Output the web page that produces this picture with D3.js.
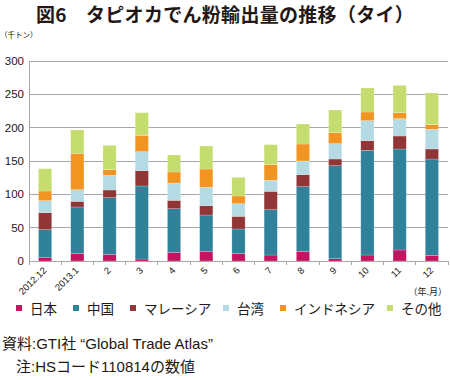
<!DOCTYPE html>
<html><head><meta charset="utf-8">
<script src="https://cdn.jsdelivr.net/npm/d3@7"></script>
<style>
html,body{margin:0;padding:0;background:#fff;}
svg{display:block;font-family:"Noto Sans CJK JP","Noto Sans",sans-serif;}
</style></head>
<body>
<svg id="c" width="450" height="380"></svg>
<script>
const categories = ["2012.12","2013.1","2","3","4","5","6","7","8","9","10","11","12"];
const seriesNames = ["日本","中国","マレーシア","台湾","インドネシア","その他"];
const japan     = [5, 11.5, 10, 3, 13, 14, 11, 9, 14, 3.5, 9, 16.5, 8.5];
const china     = [42, 69.5, 85, 109.5, 65.5, 55, 37, 68, 97.5, 139.5, 157, 151.5, 144.5];
const malaysia  = [25.5, 8.5, 11.5, 23, 12.5, 14, 19, 27.5, 18, 10, 14.5, 19.5, 15];
const taiwan    = [18, 17.5, 22, 28.5, 26, 27.5, 19, 16.5, 20.5, 23, 30, 26, 29.5];
const indonesia = [14.5, 54.5, 8.5, 24.5, 16.5, 27.5, 11.5, 23.5, 25.5, 16.5, 13, 9, 7];
const others    = [33.5, 35, 36.5, 34, 25.5, 34.5, 28, 30, 30, 34, 36, 41, 47.5];
const yTicks = [0, 50, 100, 150, 200, 250, 300];
const colors = ["#c4145f","#2f8299","#913537","#b4dbe3","#f29422","#c5dc6e"];

const seriesValues = [japan, china, malaysia, taiwan, indonesia, others];
const rows = categories.map((c, i) => {
  const r = {cat: c};
  seriesNames.forEach((s, k) => r[s] = seriesValues[k][i]);
  return r;
});

const svg = d3.select("#c");
const x = d3.scaleBand().domain(categories).range([29, 448]).paddingInner(0.59).paddingOuter(0.295);
const y = d3.scaleLinear().domain([0, 300]).range([261, 61]);
const latin = "'Liberation Sans','Noto Sans CJK JP',sans-serif";

// title
svg.append("text").attr("x", 225).attr("y", 22).attr("text-anchor", "middle")
  .attr("font-size", 19).attr("font-weight", "bold").attr("fill", "#231815")
  .attr("letter-spacing", 0.3)
  .text("図6　タピオカでん粉輸出量の推移（タイ）");

// unit
svg.append("text").attr("x", 0).attr("y", 38).attr("font-size", 7.5).attr("fill", "#231815").text("（千トン）");

// gridlines
svg.append("g").selectAll("line").data(yTicks.filter(d => d > 0)).join("line")
  .attr("x1", 29).attr("x2", 448).attr("y1", d => y(d)).attr("y2", d => y(d))
  .attr("stroke", "#a6a6a6").attr("stroke-width", 1).attr("shape-rendering", "crispEdges");

// y labels
svg.append("g").selectAll("text").data(yTicks).join("text")
  .attr("x", 24).attr("y", d => y(d) + 4).attr("text-anchor", "end")
  .attr("font-size", 11.5).attr("fill", "#231815").attr("font-family", latin)
  .text(d => d);

// bars
const stack = d3.stack().keys(seriesNames)(rows);
svg.append("g").selectAll("g").data(stack).join("g")
  .attr("fill", (d, i) => colors[i])
  .selectAll("rect").data(d => d).join("rect")
  .attr("x", d => x(d.data.cat)).attr("width", x.bandwidth())
  .attr("y", d => y(d[1])).attr("height", d => y(d[0]) - y(d[1]))
  .attr("stroke", "rgba(255,255,255,0.35)").attr("stroke-width", 0.6);

// axes lines
svg.append("line").attr("x1", 29).attr("x2", 29).attr("y1", 61).attr("y2", 261)
  .attr("stroke", "#a6a6a6").attr("shape-rendering", "crispEdges");
svg.append("line").attr("x1", 29).attr("x2", 448).attr("y1", 261).attr("y2", 261)
  .attr("stroke", "#a6a6a6").attr("shape-rendering", "crispEdges");
const step = x.step();
const bounds = d3.range(categories.length + 1).map(i => 29 + i * step);
svg.append("g").selectAll("line").data(bounds).join("line")
  .attr("x1", d => d).attr("x2", d => d).attr("y1", 261).attr("y2", 265)
  .attr("stroke", "#a6a6a6").attr("shape-rendering", "crispEdges");

// x labels
svg.append("g").selectAll("text").data(categories).join("text")
  .attr("transform", d => `translate(${x(d) + x.bandwidth() / 2 + 2},${271}) rotate(-45)`)
  .attr("text-anchor", "end").attr("font-size", 9.5).attr("fill", "#231815")
  .attr("font-family", latin)
  .text(d => d);

svg.append("text").attr("x", 447).attr("y", 295).attr("text-anchor", "end")
  .attr("font-size", 9).attr("fill", "#231815").text("（年.月）");

// legend
const legX = [16, 73, 130, 223, 280, 387];
const leg = svg.append("g").selectAll("g").data(seriesNames).join("g")
  .attr("transform", (d, i) => `translate(${legX[i]},0)`);
leg.append("rect").attr("x", 0).attr("y", 305).attr("width", 6).attr("height", 6)
  .attr("fill", (d, i) => colors[i]);
leg.append("text").attr("x", 14).attr("y", 314).attr("font-size", 13.5).attr("fill", "#231815").text(d => d);

// notes
svg.append("text").attr("x", 2).attr("y", 349).attr("font-size", 15).attr("fill", "#231815")
  .attr("font-family", latin)
  .text("資料:GTI社 “Global Trade Atlas”");
svg.append("text").attr("x", 16).attr("y", 372).attr("font-size", 15).attr("fill", "#231815")
  .attr("font-family", latin)
  .text("注:HSコード110814の数値");
</script>
</body></html>
